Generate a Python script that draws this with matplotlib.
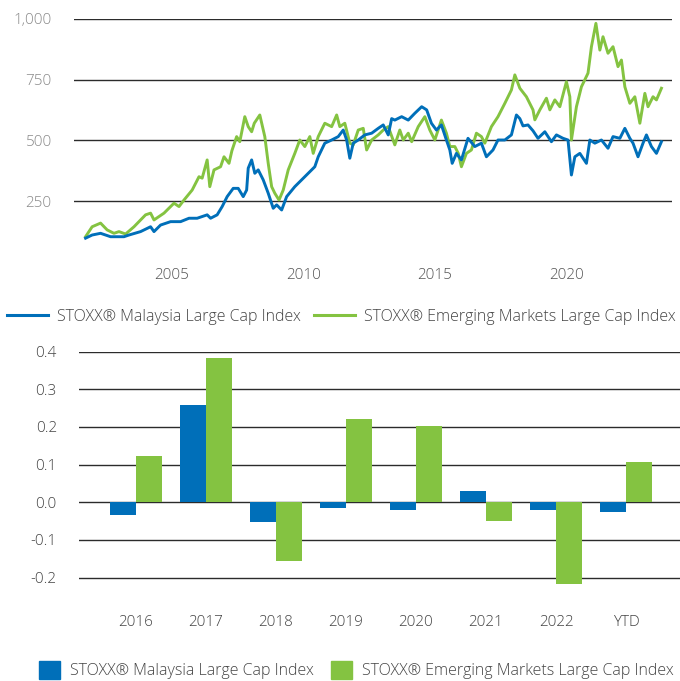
import matplotlib
matplotlib.use("Agg")
import matplotlib.pyplot as plt
from matplotlib.lines import Line2D
from matplotlib.patches import Patch

plt.rcParams['font.family'] = ['Open Sans', 'DejaVu Sans']
plt.rcParams['font.weight'] = 'light'

blue = '#006fb9'
green = '#84c341'
grid_col = '#2b2b2b'

# index levels (decimal years)
em_years = [2001.73, 2001.98, 2002.30, 2002.55, 2002.81, 2003.00, 2003.25, 2003.57, 2004.01, 2004.20,
            2004.33, 2004.71, 2005.09, 2005.28, 2005.47, 2005.78, 2006.04, 2006.16, 2006.35, 2006.45,
            2006.61, 2006.86, 2006.99, 2007.18, 2007.29, 2007.47, 2007.59, 2007.78, 2007.91, 2008.04,
            2008.14, 2008.35, 2008.54, 2008.67, 2008.80, 2008.92, 2009.08, 2009.24, 2009.43, 2009.68,
            2009.87, 2010.06, 2010.25, 2010.38, 2010.57, 2010.82, 2011.08, 2011.27, 2011.39, 2011.58,
            2011.77, 2011.90, 2012.09, 2012.28, 2012.41, 2012.60, 2012.85, 2013.04, 2013.23, 2013.48,
            2013.67, 2013.80, 2013.99, 2014.12, 2014.37, 2014.62, 2014.81, 2015.00, 2015.25, 2015.44,
            2015.57, 2015.76, 2015.89, 2016.01, 2016.20, 2016.39, 2016.58, 2016.77, 2016.90, 2017.15,
            2017.40, 2017.66, 2017.91, 2018.04, 2018.23, 2018.48, 2018.73, 2018.80, 2018.99, 2019.24,
            2019.37, 2019.56, 2019.75, 2020.00, 2020.13, 2020.19, 2020.38, 2020.57, 2020.82, 2020.95,
            2021.12, 2021.27, 2021.39, 2021.58, 2021.77, 2021.96, 2022.09, 2022.22, 2022.41, 2022.60,
            2022.79, 2022.98, 2023.10, 2023.29, 2023.42, 2023.61]
em_vals = [104, 145, 160, 132, 118, 125, 115, 145, 194, 201,
           173, 201, 242, 228, 255, 296, 351, 345, 420, 310,
           379, 392, 433, 406, 458, 516, 495, 598, 557, 536,
           571, 605, 516, 406, 310, 283, 255, 296, 379, 447,
           502, 475, 516, 447, 516, 571, 557, 605, 557, 571,
           489, 482, 543, 550, 461, 502, 523, 543, 557, 482,
           543, 502, 530, 495, 557, 598, 543, 502, 584, 530,
           475, 475, 447, 392, 447, 461, 530, 516, 489, 557,
           598, 653, 708, 770, 715, 680, 626, 585, 626, 674,
           626, 667, 639, 742, 680, 502, 639, 721, 777, 886,
           982, 872, 927, 859, 886, 804, 831, 721, 653, 680,
           571, 694, 639, 680, 667, 715]

mal_years = [2001.73, 2001.98, 2002.30, 2002.68, 2002.93, 2003.19, 2003.38, 2003.82, 2004.20, 2004.33,
             2004.58, 2004.96, 2005.34, 2005.66, 2005.97, 2006.35, 2006.48, 2006.73, 2006.92, 2007.11,
             2007.34, 2007.53, 2007.72, 2007.85, 2007.91, 2008.04, 2008.16, 2008.29, 2008.48, 2008.67,
             2008.86, 2008.99, 2009.18, 2009.37, 2009.68, 2009.94, 2010.19, 2010.44, 2010.57, 2010.82,
             2011.08, 2011.33, 2011.52, 2011.65, 2011.77, 2011.90, 2012.09, 2012.34, 2012.60, 2012.85,
             2013.04, 2013.23, 2013.36, 2013.48, 2013.74, 2013.99, 2014.24, 2014.50, 2014.69, 2014.87,
             2015.06, 2015.25, 2015.44, 2015.57, 2015.66, 2015.82, 2016.01, 2016.26, 2016.52, 2016.77,
             2016.96, 2017.21, 2017.40, 2017.66, 2017.91, 2018.10, 2018.23, 2018.35, 2018.54, 2018.73,
             2018.92, 2019.18, 2019.43, 2019.62, 2019.87, 2020.06, 2020.19, 2020.32, 2020.51, 2020.76,
             2020.89, 2021.08, 2021.33, 2021.58, 2021.77, 2022.03, 2022.22, 2022.41, 2022.53, 2022.72,
             2022.91, 2023.04, 2023.23, 2023.42, 2023.61]
mal_vals = [98, 111, 118, 104, 104, 104, 111, 125, 145, 125,
            152, 166, 166, 180, 180, 194, 180, 194, 228, 269,
            303, 303, 269, 296, 386, 420, 365, 379, 338, 283,
            221, 235, 214, 269, 310, 338, 365, 392, 433, 489,
            502, 516, 543, 502, 427, 489, 502, 523, 530, 550,
            564, 523, 590, 584, 598, 584, 612, 639, 626, 571,
            543, 564, 502, 461, 406, 447, 420, 509, 475, 489,
            433, 461, 502, 502, 523, 605, 590, 560, 564, 540,
            509, 536, 495, 523, 509, 502, 358, 433, 447, 406,
            502, 489, 502, 468, 516, 509, 550, 509, 489, 433,
            489, 523, 475, 447, 495]

# annual returns
categories = ['2016', '2017', '2018', '2019', '2020', '2021', '2022', 'YTD']
mal_ret = [-0.033, 0.258, -0.052, -0.014, -0.020, 0.029, -0.020, -0.026]
em_ret = [0.123, 0.383, -0.155, 0.220, 0.202, -0.050, -0.216, 0.108]

label_mal = 'STOXX® Malaysia Large Cap Index'
label_em = 'STOXX® Emerging Markets Large Cap Index'

fs = 11
lfs = 11.5
fig = plt.figure(figsize=(6.8, 6.81), dpi=100)

# ---- top: index levels
ax1 = fig.add_axes([0.1088, 0.6153, 0.879, 0.3568])
ax1.plot(mal_years, mal_vals, color=blue, lw=2.1, zorder=3)
ax1.plot(em_years, em_vals, color=green, lw=2.1, zorder=2)
ax1.set_xlim(2001.29, 2024.0)
ax1.set_ylim(0, 1000)
ax1.set_yticks([250, 500, 750, 1000])
ax1.set_yticklabels(['250', '500', '750', '1,000'])
ax1.set_xticks([2005, 2010, 2015, 2020])
ax1.grid(axis='y', color=grid_col, lw=1.0)
ax1.set_axisbelow(True)
for s in ax1.spines.values():
    s.set_visible(False)
ax1.tick_params(axis='both', length=0, labelsize=fs)
ax1.tick_params(axis='y', pad=16, labelcolor='#8a8a8a')
ax1.tick_params(axis='x', pad=4, labelcolor='#555555')

h1 = [Line2D([], [], color=blue, lw=2.2), Line2D([], [], color=green, lw=2.2)]
fig.legend(h1, [label_mal, label_em], loc='center', bbox_to_anchor=(0.502, 0.5345), ncol=2,
           frameon=False, fontsize=lfs, handlelength=2.55, handletextpad=0.55, columnspacing=0.85,
           borderpad=0, labelcolor='#444444')

# ---- bottom: annual returns
ax2 = fig.add_axes([0.1162, 0.0965, 0.8838, 0.3871])
x = list(range(len(categories)))
w = 0.376
ax2.bar([i - w / 2 for i in x], mal_ret, width=w, color=blue, zorder=3)
ax2.bar([i + w / 2 for i in x], em_ret, width=w, color=green, zorder=3)
ax2.set_xlim(-0.814, 7.771)
ax2.set_ylim(-0.3, 0.4)
ax2.set_yticks([-0.2, -0.1, 0.0, 0.1, 0.2, 0.3, 0.4])
ax2.set_yticklabels(['-0.2', '-0.1', '0.0', '0.1', '0.2', '0.3', '0.4'])
ax2.set_xticks(x)
ax2.set_xticklabels(categories)
ax2.grid(axis='y', color=grid_col, lw=1.0)
ax2.set_axisbelow(True)
for s in ax2.spines.values():
    s.set_visible(False)
ax2.tick_params(axis='both', length=0, labelsize=fs, labelcolor='#444444')
ax2.tick_params(axis='y', pad=16)
ax2.tick_params(axis='x', pad=0)

h2 = [Patch(color=blue), Patch(color=green)]
fig.legend(h2, [label_mal, label_em], loc='center', bbox_to_anchor=(0.524, 0.0162), ncol=2,
           frameon=False, fontsize=lfs, handlelength=1.32, handleheight=1.32, handletextpad=0.62,
           columnspacing=1.05, borderpad=0, labelcolor='#444444')

fig.savefig('out.png', dpi=100)
